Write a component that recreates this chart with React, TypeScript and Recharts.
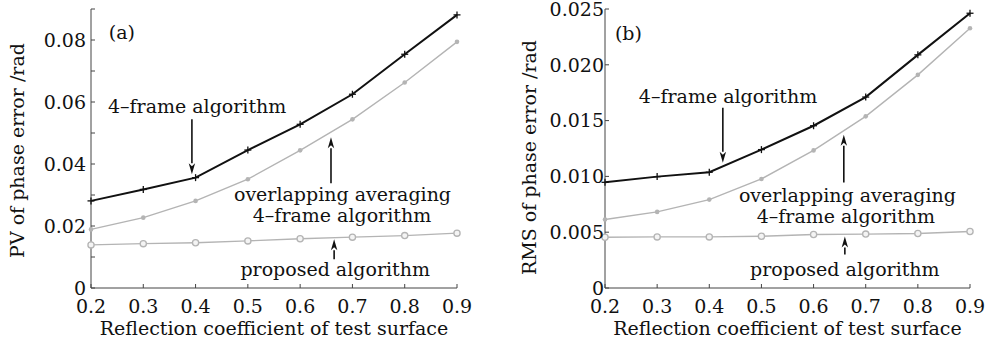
import React from 'react';
import {
  LineChart,
  Line,
  XAxis,
  YAxis,
  ReferenceLine,
  ReferenceDot,
} from 'recharts';

// reflection coefficient of the test surface
const reflection = [0.2, 0.3, 0.4, 0.5, 0.6, 0.7, 0.8, 0.9];

// (a) PV of phase error /rad
const pvFourFrame = [0.0281, 0.0318, 0.0356, 0.0445, 0.0528, 0.0625, 0.0754, 0.0881];
const pvOverlapping = [0.0189, 0.0227, 0.0281, 0.0351, 0.0444, 0.0544, 0.0663, 0.0794];
const pvProposed = [0.0139, 0.0143, 0.0146, 0.0152, 0.0159, 0.0164, 0.0169, 0.0177];

// (b) RMS of phase error /rad
const rmsFourFrame = [0.00947, 0.00998, 0.01037, 0.0124, 0.01454, 0.01711, 0.02089, 0.02462];
const rmsOverlapping = [0.00614, 0.00682, 0.00792, 0.00977, 0.01233, 0.01538, 0.0191, 0.02328];
const rmsProposed = [0.00455, 0.00458, 0.00458, 0.00464, 0.0048, 0.00483, 0.00488, 0.00506];

const xTicks = [0.2, 0.3, 0.4, 0.5, 0.6, 0.7, 0.8, 0.9];
const pvTicks = [0, 0.01, 0.02, 0.03, 0.04, 0.05, 0.06, 0.07, 0.08, 0.09];
const pvLabels = ['0', '', '0.02', '', '0.04', '', '0.06', '', '0.08', ''];
const rmsTicks = [0, 0.005, 0.01, 0.015, 0.02, 0.025];
const rmsLabels = ['0', '0.005', '0.010', '0.015', '0.020', '0.025'];

const FONT = '"DejaVu Serif", "Liberation Serif", serif';
const GRAY = '#b4b4b4';
const AXIS = '#444';

const buildRows = (a: number[], b: number[], c: number[]) =>
  reflection.map((x, i) => ({ x, four: a[i], overlap: b[i], proposed: c[i] }));

const PlusDot = (props: any) => {
  const { cx, cy } = props;
  if (cx == null || cy == null) return null;
  return (
    <g stroke="#111" strokeWidth={1.3}>
      <line x1={cx - 3.5} y1={cy} x2={cx + 3.5} y2={cy} />
      <line x1={cx} y1={cy - 3.5} x2={cx} y2={cy + 3.5} />
    </g>
  );
};

const StarDot = (props: any) => {
  const { cx, cy } = props;
  if (cx == null || cy == null) return null;
  return <circle cx={cx} cy={cy} r={2.3} fill={GRAY} stroke="none" />;
};

const RingDot = (props: any) => {
  const { cx, cy } = props;
  if (cx == null || cy == null) return null;
  return <circle cx={cx} cy={cy} r={3.1} fill="#f4f4f4" stroke={GRAY} strokeWidth={1.3} />;
};

const Arrow = (props: any) => {
  const { x1, y1, x2, y2 } = props;
  if ([x1, y1, x2, y2].some((v) => v == null || isNaN(v))) return null;
  const dir = y2 > y1 ? 1 : -1;
  const len = 11;
  const half = 3.2;
  return (
    <g>
      <line x1={x1} y1={y1} x2={x2} y2={y2 - dir * len} stroke="#111" strokeWidth={1.6} />
      <path
        d={`M${x2},${y2} L${x2 - half},${y2 - dir * len} L${x2},${y2 - dir * (len - 3)} L${x2 + half},${y2 - dir * len} Z`}
        fill="#111"
      />
    </g>
  );
};

const TextMark = (text: string) => (props: any) => {
  const { cx, cy } = props;
  if (cx == null || cy == null) return null;
  return (
    <text
      x={cx}
      y={cy}
      textAnchor="middle"
      dominantBaseline="central"
      fontFamily={FONT}
      fontSize={19}
      fill="#111"
    >
      {text}
    </text>
  );
};

type Note = { x: number; y: number; text: string };
type Pointer = { x: number; from: number; to: number };

const notesA: Note[] = [
  { x: 0.259, y: 0.0825, text: '(a)' },
  { x: 0.403, y: 0.0586, text: '4\u2013frame algorithm' },
  { x: 0.681, y: 0.0302, text: 'overlapping averaging' },
  { x: 0.68, y: 0.0235, text: '4\u2013frame algorithm' },
  { x: 0.667, y: 0.006, text: 'proposed algorithm' },
];
const arrowsA: Pointer[] = [
  { x: 0.393, from: 0.0544, to: 0.0367 },
  { x: 0.659, from: 0.0338, to: 0.0486 },
  { x: 0.665, from: 0.0093, to: 0.0157 },
];
const notesB: Note[] = [
  { x: 0.245, y: 0.02286, text: '(b)' },
  { x: 0.436, y: 0.01722, text: '4\u2013frame algorithm' },
  { x: 0.665, y: 0.00837, text: 'overlapping averaging' },
  { x: 0.662, y: 0.00649, text: '4\u2013frame algorithm' },
  { x: 0.66, y: 0.00166, text: 'proposed algorithm' },
];
const arrowsB: Pointer[] = [
  { x: 0.426, from: 0.01615, to: 0.01123 },
  { x: 0.658, from: 0.00945, to: 0.01374 },
  { x: 0.66, from: 0.003, to: 0.00462 },
];

const YTitle = (text: string, x: number, dy: number) => (props: any) => {
  const { viewBox } = props;
  const cy = viewBox.y + viewBox.height / 2 + dy;
  return (
    <text
      transform={`translate(${x},${cy}) rotate(-90)`}
      textAnchor="middle"
      dominantBaseline="central"
      fontFamily={FONT}
      fontSize={19}
      fill="#111"
    >
      {text}
    </text>
  );
};

const XTitle = (props: any) => {
  const { viewBox } = props;
  return (
    <text
      x={viewBox.x + viewBox.width / 2}
      y={328}
      textAnchor="middle"
      dominantBaseline="central"
      fontFamily={FONT}
      fontSize={19}
      fill="#111"
    >
      Reflection coefficient of test surface
    </text>
  );
};

interface PanelProps {
  rows: { x: number; four: number; overlap: number; proposed: number }[];
  yMax: number;
  yTicks: number[];
  yLabels: string[];
  yTitle: string;
  yTitleX: number;
  yTitleDy: number;
  leftWidth: number;
  rightMargin: number;
  labelGap: number;
  notes: Note[];
  arrows: Pointer[];
}

const tickStyle = { fontFamily: FONT, fontSize: 19, fill: '#111' };

const Panel = (p: PanelProps) => (
  <LineChart
    width={496}
    height={343}
    data={p.rows}
    margin={{ top: 9, right: p.rightMargin, bottom: 0, left: 0 }}
  >
    <XAxis
      xAxisId="b"
      dataKey="x"
      type="number"
      domain={[0.2, 0.9]}
      ticks={xTicks}
      tickFormatter={(v: number) => v.toFixed(1)}
      tick={tickStyle}
      tickSize={-4}
      tickMargin={16}
      height={55}
      stroke={AXIS}
      interval={0}
      label={<XTitle />}
    />
    <XAxis
      xAxisId="t"
      orientation="top"
      dataKey="x"
      type="number"
      domain={[0.2, 0.9]}
      ticks={xTicks}
      tick={false}
      tickSize={-4}
      height={0}
      stroke={AXIS}
    />
    <YAxis
      yAxisId="l"
      type="number"
      domain={[0, p.yMax]}
      ticks={p.yTicks}
      tickFormatter={(v: number, i: number) => p.yLabels[i] ?? ''}
      tick={tickStyle}
      tickSize={-4}
      tickMargin={p.labelGap}
      width={p.leftWidth}
      stroke={AXIS}
      interval={0}
      label={YTitle(p.yTitle, p.yTitleX, p.yTitleDy) as any}
    />
    <YAxis
      yAxisId="r"
      orientation="right"
      type="number"
      domain={[0, p.yMax]}
      ticks={p.yTicks}
      tick={false}
      tickSize={-4}
      width={0}
      stroke={AXIS}
    />
    <Line
      xAxisId="b"
      yAxisId="l"
      dataKey="proposed"
      stroke={GRAY}
      strokeWidth={1.4}
      dot={<RingDot />}
      isAnimationActive={false}
    />
    <Line
      xAxisId="b"
      yAxisId="l"
      dataKey="overlap"
      stroke={GRAY}
      strokeWidth={1.4}
      dot={<StarDot />}
      isAnimationActive={false}
    />
    <Line
      xAxisId="b"
      yAxisId="l"
      dataKey="four"
      stroke="#111"
      strokeWidth={2}
      dot={<PlusDot />}
      isAnimationActive={false}
    />
    {p.arrows.map((a, i) => (
      <ReferenceLine
        key={`ar-${i}`}
        xAxisId="b"
        yAxisId="l"
        segment={[
          { x: a.x, y: a.from },
          { x: a.x, y: a.to },
        ]}
        shape={<Arrow />}
      />
    ))}
    {p.notes.map((n, i) => (
      <ReferenceDot
        key={`nt-${i}`}
        xAxisId="b"
        yAxisId="l"
        x={n.x}
        y={n.y}
        r={0}
        shape={TextMark(n.text)}
      />
    ))}
  </LineChart>
);

export default function App() {
  return (
    <div
      style={{
        position: 'absolute',
        left: 0,
        top: 0,
        width: 992,
        height: 343,
        background: '#fff',
        display: 'flex',
      }}
    >
      <Panel
        rows={buildRows(pvFourFrame, pvOverlapping, pvProposed)}
        yMax={0.09}
        yTicks={pvTicks}
        yLabels={pvLabels}
        yTitle="PV of phase error /rad"
        yTitleX={17}
        yTitleDy={2}
        leftWidth={91}
        rightMargin={39}
        labelGap={9}
        notes={notesA}
        arrows={arrowsA}
      />
      <Panel
        rows={buildRows(rmsFourFrame, rmsOverlapping, rmsProposed)}
        yMax={0.025}
        yTicks={rmsTicks}
        yLabels={rmsLabels}
        yTitle="RMS of phase error /rad"
        yTitleX={33}
        yTitleDy={9}
        leftWidth={109}
        rightMargin={22}
        labelGap={5}
        notes={notesB}
        arrows={arrowsB}
      />
    </div>
  );
}
